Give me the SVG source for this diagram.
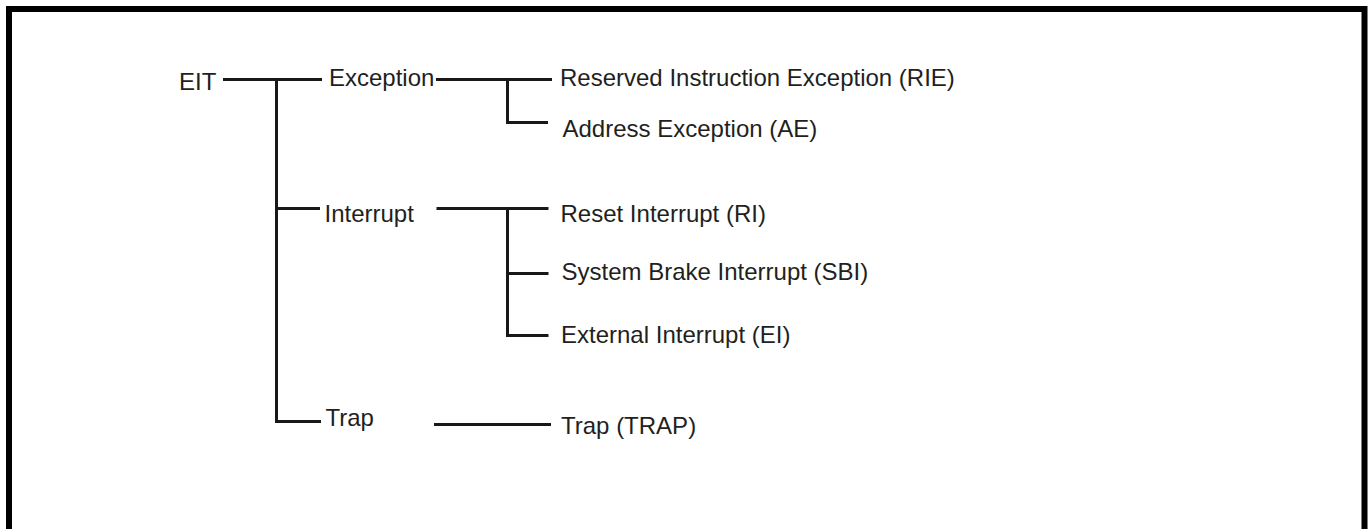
<svg xmlns="http://www.w3.org/2000/svg" width="1370" height="529" viewBox="0 0 1370 529">
<style>
text{font-family:"Liberation Sans",Arial,sans-serif;font-size:24px;fill:#231f20}
.c{stroke:#1a1718;stroke-width:3;fill:none}
.frame{stroke:#000;stroke-width:6;fill:none}
</style>
<rect width="1370" height="529" fill="#fff"/>
<path class="frame" d="M9,529 V9 H1364.5 V529"/>
<g id="connectors">
<path class="c" d="M223,79.5 H322"/>
<path class="c" d="M276.5,79.5 V421.5 H321"/>
<path class="c" d="M276.5,208.5 H320"/>
<path class="c" d="M436,79.5 H552"/>
<path class="c" d="M507.5,79.5 V122.5 H548"/>
<path class="c" d="M436.5,208.5 H548.5"/>
<path class="c" d="M507.5,208.5 V335.5 H548.5"/>
<path class="c" d="M507.5,273.5 H548.5"/>
<path class="c" d="M434,424.5 H551"/>
</g>
<g id="n-eit"><text x="179" y="90">EIT</text></g>
<g id="n-exception"><text x="329" y="86">Exception</text></g>
<g id="n-interrupt"><text x="324.5" y="221.7">Interrupt</text></g>
<g id="n-trap"><text x="325.5" y="426">Trap</text></g>
<g id="n-rie"><text x="560" y="86">Reserved Instruction Exception (RIE)</text></g>
<g id="n-ae"><text x="562.5" y="137">Address Exception (AE)</text></g>
<g id="n-ri"><text x="560.5" y="221.7">Reset Interrupt (RI)</text></g>
<g id="n-sbi"><text x="561.5" y="280">System Brake Interrupt (SBI)</text></g>
<g id="n-ei"><text x="561" y="343">External Interrupt (EI)</text></g>
<g id="n-trapt"><text x="561" y="434.3">Trap (TRAP)</text></g>
</svg>
